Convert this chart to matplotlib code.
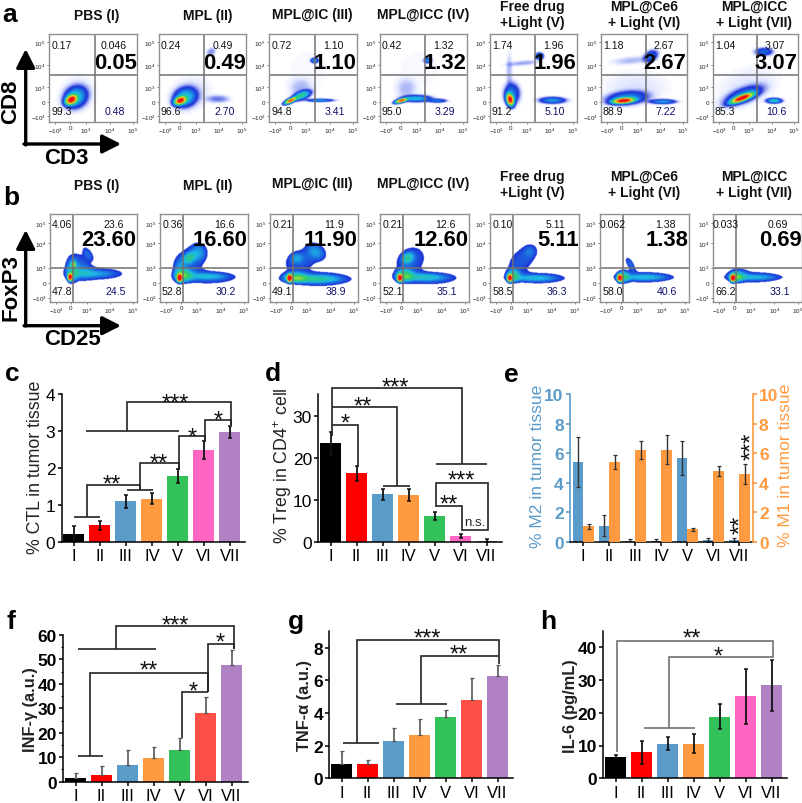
import numpy as np
import matplotlib
matplotlib.use('Agg')
import matplotlib.pyplot as plt
from matplotlib.colors import LinearSegmentedColormap

plt.rcParams['font.family'] = ['Liberation Sans', 'DejaVu Sans']
plt.rcParams['mathtext.fontset'] = 'custom'
plt.rcParams['mathtext.rm'] = 'Liberation Sans'
plt.rcParams['mathtext.default'] = 'regular'

W, H = 803, 804

groups = ['I', 'II', 'III', 'IV', 'V', 'VI', 'VII']
colors = ['#000000', '#ff0000', '#5b9bc9', '#ff9a40', '#33c15a', '#ff66c4', '#b082c4']
colors_red = ['#000000', '#ff0000', '#5b9bc9', '#ff9a40', '#33c15a', '#ff5048', '#b082c4']

# percentages typed in the flow plots
titles = ['PBS (I)', 'MPL (II)', 'MPL@IC (III)', 'MPL@ICC (IV)', 'Free drug\n+Light (V)',
          'MPL@Ce6\n+ Light (VI)', 'MPL@ICC\n+ Light (VII)']
cd8_ul = ['0.17', '0.24', '0.72', '0.42', '1.74', '1.18', '1.04']
cd8_ur = ['0.046', '0.49', '1.10', '1.32', '1.96', '2.67', '3.07']
cd8_big = ['0.05', '0.49', '1.10', '1.32', '1.96', '2.67', '3.07']
cd8_ll = ['99.3', '96.6', '94.8', '95.0', '91.2', '88.9', '85.3']
cd8_lr = ['0.48', '2.70', '3.41', '3.29', '5.10', '7.22', '10.6']
foxp3_ul = ['4.06', '0.36', '0.21', '0.21', '0.10', '0.062', '0.033']
foxp3_ur = ['23.6', '16.6', '11.9', '12.6', '5.11', '1.38', '0.69']
foxp3_big = ['23.60', '16.60', '11.90', '12.60', '5.11', '1.38', '0.69']
foxp3_ll = ['47.8', '52.8', '49.1', '52.1', '58.5', '58.0', '66.2']
foxp3_lr = ['24.5', '30.2', '38.9', '35.1', '36.3', '40.6', '33.1']

# density clouds: cx, cy, sx, sy, angle, height (fractions of the plot, y down)
cd8_clouds = [
    [(.25, .75, .05, .035, -30, .8), (.3, .72, .09, .075, -35, .3), (.33, .68, .13, .12, -35, .03)],
    [(.24, .76, .05, .03, -20, .8), (.3, .72, .09, .07, -20, .3), (.36, .68, .15, .12, -20, .03),
     (.68, .74, .09, .03, 0, .07), (.6, .2, .04, .03, -30, .06)],
    [(.24, .76, .05, .018, -25, .9), (.37, .7, .07, .03, -20, .4), (.36, .62, .09, .08, 0, .04),
     (.58, .755, .1, .012, 0, .25), (.52, .3, .03, .02, 0, .25), (.45, .4, .2, .2, 0, .006)],
    [(.24, .76, .05, .016, -15, .9), (.42, .735, .11, .025, 0, .3), (.66, .76, .07, .015, 0, .2),
     (.3, .62, .08, .08, 0, .04), (.55, .3, .03, .02, 0, .24), (.45, .4, .2, .2, 0, .006)],
    [(.23, .75, .03, .05, -15, .9), (.25, .68, .06, .08, 0, .2), (.72, .755, .1, .025, 0, .25),
     (.57, .25, .03, .025, 0, .3), (.38, .33, .13, .02, -5, .05), (.22, .42, .025, .14, 0, .04)],
    [(.26, .76, .09, .022, -5, .9), (.3, .73, .16, .05, -5, .22), (.72, .77, .1, .018, 0, .25),
     (.58, .25, .06, .04, -30, .18), (.35, .3, .15, .03, -5, .04), (.4, .6, .25, .12, 0, .02)],
    [(.34, .73, .1, .025, -20, .9), (.36, .7, .16, .055, -20, .2), (.72, .76, .06, .02, 0, .35),
     (.6, .2, .07, .03, 0, .18), (.4, .6, .25, .14, -20, .02)],
]
foxp3_clouds = [
    [(.23, .72, .02, .03, 0, .85), (.27, .57, .018, .025, 0, .4), (.52, .68, .27, .06, 0, .17), (.33, .58, .1, .12, -40, .17),
     (.44, .45, .035, .07, -35, .15), (.25, .66, .05, .1, 0, .2), (.5, .68, .16, .025, 0, .1)],
    [(.22, .73, .02, .03, 0, .85), (.33, .5, .05, .04, -40, .25), (.35, .52, .16, .12, -40, .17), (.44, .43, .06, .07, 0, .14),
     (.55, .72, .26, .06, 0, .18), (.27, .7, .07, .05, 0, .3), (.55, .71, .14, .025, 0, .14), (.22, .65, .05, .1, 0, .15)],
    [(.22, .73, .02, .03, 0, .85), (.55, .74, .29, .065, 0, .2), (.5, .74, .2, .03, 0, .22), (.36, .52, .17, .1, -20, .17),
     (.53, .42, .06, .09, -50, .17), (.28, .72, .09, .04, 0, .3), (.3, .5, .05, .04, 0, .12)],
    [(.22, .73, .02, .03, 0, .85), (.31, .5, .05, .04, -40, .25), (.34, .53, .15, .12, -40, .17),
     (.55, .73, .26, .06, 0, .18), (.5, .72, .16, .028, 0, .17), (.27, .7, .07, .05, 0, .32)],
    [(.22, .73, .02, .03, 0, .85), (.36, .52, .17, .1, -45, .16), (.45, .42, .05, .05, -30, .08), (.55, .73, .26, .055, 0, .16),
     (.5, .73, .16, .025, 0, .16), (.26, .7, .05, .05, 0, .3)],
    [(.22, .73, .02, .03, 0, .85), (.5, .72, .28, .055, 0, .16), (.5, .72, .17, .025, 0, .16), (.34, .57, .03, .07, -30, .18),
     (.26, .71, .05, .05, 0, .3)],
    [(.22, .73, .02, .03, 0, .85), (.46, .72, .27, .055, 0, .16), (.46, .72, .17, .022, 0, .14), (.28, .68, .08, .06, 0, .14),
     (.26, .72, .05, .04, 0, .25)],
]

ctl = [0.22, 0.45, 1.1, 1.17, 1.78, 2.48, 2.98]
ctl_err = [0.22, 0.13, 0.17, 0.15, 0.18, 0.25, 0.16]
treg = [23.5, 16.3, 11.3, 11.2, 6.2, 1.4, 0.3]
treg_err = [2.7, 1.8, 1.2, 1.4, 0.95, 0.5, 0.3]
m2 = [5.4, 1.1, 0.07, 0.07, 5.7, 0.12, 0.15]
m2_err = [1.7, 0.7, 0.12, 0.15, 1.15, 0.15, 0.15]
m1 = [1.05, 5.4, 6.2, 6.25, 0.87, 4.8, 4.6]
m1_err = [0.15, 0.45, 0.6, 0.95, 0.1, 0.35, 0.65]
infg = [1.4, 2.8, 7.0, 9.8, 13.0, 27.9, 47.8]
infg_err = [2.3, 3.8, 5.9, 4.4, 4.9, 6.7, 6.2]
tnfa = [0.87, 0.88, 2.27, 2.65, 3.73, 4.79, 6.28]
tnfa_err = [0.83, 0.22, 0.83, 0.98, 0.43, 1.33, 0.65]
il6 = [6.6, 7.9, 10.6, 10.5, 18.8, 25.0, 28.3]
il6_err = [0.4, 3.6, 1.9, 2.9, 3.9, 8.4, 7.9]

fig = plt.figure(figsize=(W / 100, H / 100), dpi=100)


def px_axes(x0, y0, x1, y1):
    return fig.add_axes([x0 / W, 1 - y1 / H, (x1 - x0) / W, (y1 - y0) / H])


flow_cmap = LinearSegmentedColormap.from_list('flow', [
    (0, '#ffffff'), (.02, '#dde3ff'), (.10, '#1c30d8'), (.30, '#1cb8e8'),
    (.50, '#30d060'), (.70, '#f0e828'), (.85, '#ff8020'), (1, '#f01010')])
xx, yy = np.meshgrid(np.linspace(0, 1, 176), np.linspace(0, 1, 176))


def density(clouds):
    z = np.zeros_like(xx)
    for cx, cy, sx, sy, ang, amp in clouds:
        a = np.radians(ang)
        u = np.cos(a) * (xx - cx) + np.sin(a) * (yy - cy)
        v = -np.sin(a) * (xx - cx) + np.cos(a) * (yy - cy)
        z += amp * np.exp(-((u / sx) ** 2 / 2 + (v / sy) ** 2 / 2) ** 1.3)
    return np.minimum(z, 1)


def flow_panel(box, clouds, ul, ur, big, ll, lr, gate_x, gate_y, top_y, big_y, yticks, cutoff=None):
    ax = px_axes(*box)
    z = density(clouds)
    if cutoff:
        z = np.where(z < cutoff, 0, np.maximum(z, .11))
    ax.imshow(z, extent=(0, 1, 1, 0), cmap=flow_cmap, vmin=0, vmax=1, aspect='auto', interpolation='bilinear')
    ax.axvline(gate_x, color='#707070', lw=1.1)
    ax.axhline(gate_y, color='#707070', lw=1.1)
    ax.set_xlim(0, 1)
    ax.set_ylim(1, 0)
    for s in ax.spines.values():
        s.set_color('#909090')
        s.set_linewidth(1)
    names = ['$-10^3$', '0', '$10^3$', '$10^4$', '$10^5$']
    ax.set_xticks([.07, .24, .42, .69, .95], names)
    ax.set_yticks(yticks, names)
    ax.tick_params(labelsize=4.5, length=1.5, width=.5, pad=1, color='#555555', labelcolor='#222222')
    kw = dict(fontsize=7.6, ha='center', va='center', clip_on=False, color='#111111')
    ax.text(.14, top_y, ul, **kw)
    ax.text(.73, top_y, ur, **kw)
    ax.text(.14, .87, ll, **kw)
    kw['color'] = '#10106a'
    ax.text(.75, .87, lr, **kw)
    ax.text(.995, big_y, big, fontsize=15.8, fontweight='bold', ha='right', va='center',
            clip_on=False, color='black')
    return ax


cd8_x = [(49, 137), (159, 246), (269, 357), (380, 467), (490, 577), (601, 687), (713, 798)]
foxp3_x = [(50, 137), (160, 248), (270, 358), (380, 469), (490, 579), (600, 689), (713, 802)]
for i in range(7):
    flow_panel((cd8_x[i][0], 35, cd8_x[i][1], 123), cd8_clouds[i], cd8_ul[i], cd8_ur[i], cd8_big[i],
               cd8_ll[i], cd8_lr[i], .52, .47, .125, .32, [.93, .77, .6, .35, .09])
    flow_panel((foxp3_x[i][0], 215, foxp3_x[i][1], 303), foxp3_clouds[i], foxp3_ul[i], foxp3_ur[i], foxp3_big[i],
               foxp3_ll[i], foxp3_lr[i], .26, .61, .11, .295, [.95, .78, .61, .33, .1], cutoff=.1)


def setup_bars(box, ylim, yticks, y_minor=None, bold=False):
    ax = px_axes(*box)
    ax.set_xlim(-0.47, (box[2] - box[0]) / 26 - 0.47)
    ax.set_ylim(*ylim)
    ax.set_yticks(yticks)
    if y_minor:
        ax.set_yticks(y_minor, minor=True)
    ax.set_xticks(range(7), groups)
    for s in ['top', 'right']:
        ax.spines[s].set_visible(False)
    for s in ['left', 'bottom']:
        ax.spines[s].set_linewidth(1.1)
    ax.tick_params(length=3, width=1.1, labelsize=12, pad=1.5)
    ax.tick_params(which='minor', length=1.8, width=.8)
    ax.tick_params(axis='y', labelsize=12.5, pad=1.5)
    if bold:
        for t in ax.get_yticklabels():
            t.set_fontweight('bold')
    ax.patch.set_alpha(0)
    return ax


ax = setup_bars((61.7, 395, 245, 543), (0, 4), [0, 1, 2, 3, 4])
ax.bar(range(7), ctl, width=.81, color=colors, yerr=ctl_err, ecolor='#111111', capsize=1.6,
       error_kw=dict(elinewidth=1.3, capthick=1.1))

ax = setup_bars((318.3, 395, 501.7, 543), (0, 35.2), [0, 10, 20, 30])
ax.bar(range(7), treg, width=.81, color=colors, yerr=treg_err, ecolor='#111111', capsize=1.6,
       error_kw=dict(elinewidth=1.3, capthick=1.1))

# e has two y axes
ax = px_axes(570, 395, 752.7, 543)
ax.set_xlim(-0.51, 6.51)
ax.set_ylim(0, 10)
ax.set_xticks(range(7), groups)
ax.set_yticks(range(0, 11, 2))
x = np.arange(7)
ax.bar(x - .205, m2, width=.41, color='#5b9bc9', yerr=m2_err, ecolor='#333333', capsize=1.2,
       error_kw=dict(elinewidth=1, capthick=.9))
for s in ['top', 'right']:
    ax.spines[s].set_visible(False)
ax.spines['left'].set_color('#5b9bc9')
ax.spines['left'].set_linewidth(1.2)
ax.spines['bottom'].set_linewidth(1.1)
ax.tick_params(axis='x', length=3, width=1.1, labelsize=12, pad=1.5)
ax.tick_params(axis='y', length=3, width=1.2, labelsize=12.5, color='#5b9bc9', labelcolor='#5b9bc9', pad=1.5)
for t in ax.get_yticklabels():
    t.set_fontweight('bold')
ax2 = ax.twinx()
ax2.set_ylim(0, 10)
ax2.set_yticks(range(0, 11, 2))
ax2.bar(x + .205, m1, width=.41, color='#ff9a40', yerr=m1_err, ecolor='#333333', capsize=1.2,
        error_kw=dict(elinewidth=1, capthick=.9))
for s in ['top', 'left', 'bottom']:
    ax2.spines[s].set_visible(False)
ax2.spines['right'].set_color('#ff9a40')
ax2.spines['right'].set_linewidth(1.2)
ax2.tick_params(axis='y', length=3, width=1.2, labelsize=12.5, color='#ff9a40', labelcolor='#ff9a40', pad=1.5)
for t in ax2.get_yticklabels():
    t.set_fontweight('bold')

ax = setup_bars((63.3, 636, 247.7, 782.7), (0, 60), range(0, 61, 10), y_minor=range(5, 60, 10), bold=True)
ax.bar(range(7), infg, width=.81, color=colors_red, yerr=[[0] * 7, infg_err], ecolor='#555555', capsize=1.5,
       error_kw=dict(elinewidth=1.2, capthick=.9))

ax = setup_bars((329.3, 631.7, 512.7, 779.3), (0, 9.04), [0, 2, 4, 6, 8], bold=True)
ax.bar(range(7), tnfa, width=.81, color=colors_red, yerr=[[0] * 7, tnfa_err], ecolor='#555555', capsize=1.5,
       error_kw=dict(elinewidth=1.2, capthick=.9))

ax = setup_bars((603.3, 631.7, 786.7, 779.3), (0, 45), [0, 10, 20, 30, 40], bold=True)
ax.bar(range(7), il6, width=.81, color=colors, yerr=il6_err, ecolor='#111111', capsize=1.6,
       error_kw=dict(elinewidth=1.3, capthick=1.1))

# everything typed on top of the panels, in image pixels
ov = fig.add_axes([0, 0, 1, 1], zorder=10)
ov.set_xlim(0, W)
ov.set_ylim(H, 0)
ov.axis('off')


def path(pts, color='#222222', lw=1.2):
    ov.plot(*zip(*pts), color=color, lw=lw, solid_joinstyle='miter', solid_capstyle='butt')


def stars(x, y, s, rotation=0):
    # the asterisk sits high in the em box, so anchor on the baseline
    if rotation:
        ov.text(x + 13, y, s, fontsize=17, rotation=90, rotation_mode='anchor', ha='center', va='baseline', color='#111111')
    else:
        ov.text(x, y + 13, s, fontsize=17, ha='center', va='baseline', color='#111111')


for (x0, y0), (x1, y1) in [((25.7, 146), (25.7, 50)), ((24, 145), (121, 145)),
                           ((25.7, 327), (25.7, 231)), ((24, 326.7), (121, 326.7))]:
    ov.annotate('', xy=(x1, y1), xytext=(x0, y0),
                arrowprops=dict(arrowstyle='-|>,head_length=0.75,head_width=0.38', lw=2.4, color='black',
                                mutation_scale=15, shrinkA=0, shrinkB=0))

kw = dict(fontweight='bold', ha='center', va='center', color='black')
ov.text(11, 102, 'CD8', fontsize=16, rotation=90, **kw)
ov.text(66.7, 159, 'CD3', fontsize=16, **kw)
ov.text(11, 288, 'FoxP3', fontsize=16, rotation=90, **kw)
ov.text(73, 340, 'CD25', fontsize=16, **kw)

for s, px, py in [('a', 10, 15), ('b', 11, 198), ('c', 12, 374), ('d', 273, 374), ('e', 511, 375),
                  ('f', 11, 622), ('g', 296, 622), ('h', 548, 622)]:
    ov.text(px, py, s, fontsize=19, fontweight='bold', ha='center', va='center', color='black')

title_x = [97, 208, 312, 423, 532, 644, 754]
title_y_a = [16, 16, 15, 15, 15, 15, 15]
title_y_b = [186, 186, 184, 184, 185, 185, 185]
for i in range(7):
    ov.text(title_x[i], title_y_a[i], titles[i], fontsize=10, fontweight='bold', ha='center', va='center',
            linespacing=1.2, color='#111111')
    ov.text(title_x[i], title_y_b[i], titles[i], fontsize=10, fontweight='bold', ha='center', va='center',
            linespacing=1.2, color='#111111')

lab = dict(fontsize=12.8, rotation=90, ha='center', va='center', color='#222222')
ov.text(36, 467, '% CTL in tumor tissue', **lab)
ov.text(283, 466, '% Treg in CD4$^{+}$ cell', **lab)
ov.text(538, 466, '% M2 in tumor tissue', fontsize=12.6, rotation=90, ha='center', va='center', color='#5b9bc9')
ov.text(786, 465, '% M1 in tumor tissue', fontsize=12.6, rotation=90, ha='center', va='center', color='#ff9a40')
lab['fontsize'] = 11.8
ov.text(31, 710, 'INF-γ (a.u.)', fontweight='bold', **lab)
ov.text(305, 706, 'TNF-α (a.u.)', fontweight='bold', **lab)
ov.text(571, 706, 'IL-6 (pg/mL)', fontweight='bold', **lab)

# c brackets
path([(74, 518), (100.5, 518)])
path([(86.7, 518), (86.7, 485.7), (140, 485.7), (140, 491)])
path([(127, 491), (153, 491)])
path([(140, 491), (140, 464), (179, 464), (179, 470)])
path([(179, 470), (179, 436.7), (205, 436.7), (205, 441.7)])
path([(205, 441.7), (205, 420.7), (231, 420.7), (231, 425.7)])
path([(231, 425.7), (231, 403), (126.7, 403), (126.7, 431.7)])
path([(86, 431.7), (179, 431.7)])
stars(175, 398, '***')
stars(218, 415, '*')
stars(192, 432, '*')
stars(159, 458, '**')
stars(112, 479, '**')

# d brackets
path([(331.7, 436.7), (331.7, 389.3), (461.7, 389.3), (461.7, 465)])
path([(436, 465), (487.3, 465)])
path([(331.7, 408.3), (396.7, 408.3), (396.7, 486.7)])
path([(383.3, 486.7), (410, 486.7)])
path([(331.7, 425.7), (357.7, 425.7), (357.7, 466.7)])
path([(436, 508), (436, 484), (488, 484), (488, 530.7), (462.3, 530.7), (462.3, 506.7), (436, 506.7)])
stars(395, 382, '***')
stars(362.7, 401, '**')
stars(345, 418, '*')
stars(461.7, 475, '***')
stars(449, 499, '**')
ov.text(475, 523, 'n.s.', fontsize=9.5, ha='center', va='center', color='#222222')

# e marks
stars(734, 525, '**', rotation=90)
stars(745, 446, '***', rotation=90)

# f brackets
path([(78.3, 757.3), (103.3, 757.3)])
path([(90.3, 757.3), (90.3, 674), (208, 674), (208, 692.7)])
path([(208, 692.7), (208, 645), (234.3, 645), (234.3, 650)])
path([(234.3, 650), (234.3, 627.3), (115.7, 627.3), (115.7, 650.3)])
path([(78.3, 650.3), (156, 650.3)])
path([(182, 739.3), (182, 692.7), (208, 692.7)])
stars(175, 620, '***')
stars(220, 637, '*')
stars(148.3, 665, '**')
stars(193.3, 686, '*')

# g brackets
path([(343.3, 744), (379, 744)])
path([(356.7, 744), (356.7, 640.7), (499, 640.7), (499, 665)])
path([(420.7, 705), (420.7, 657.3), (499, 657.3)])
path([(395.7, 705), (446.7, 705)])
stars(427.7, 632.7, '***')
stars(459, 648.7, '**')

# h brackets
path([(616.7, 753), (616.7, 641.7), (773.3, 641.7), (773.3, 657.7), (668.7, 657.7), (668.7, 729)], color='#666666', lw=1.1)
path([(644, 729), (695, 729)], color='#666666', lw=1.1)
stars(691.7, 633, '**')
stars(718, 651, '*')

plt.savefig('out.png', dpi=100)
